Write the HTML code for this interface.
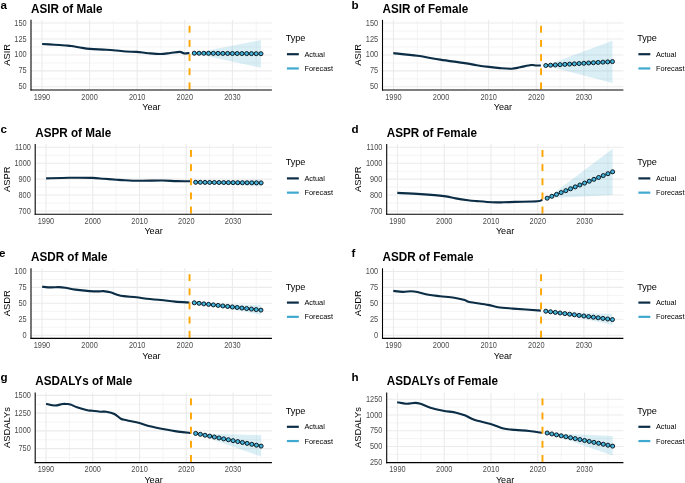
<!DOCTYPE html>
<html><head><meta charset="utf-8"><style>
html,body{margin:0;padding:0;background:#fff;}
body{width:685px;height:483px;overflow:hidden;}
svg{display:block;will-change:transform;}
text{font-family:"Liberation Sans",sans-serif;}
.tk{font-size:7.4px;fill:#4d4d4d;}
.at{font-size:9.1px;fill:#000;}
.at2{font-size:9.4px;fill:#000;}
.ti{font-size:11.7px;font-weight:bold;fill:#000;}
.tg{font-size:11.6px;font-weight:bold;fill:#000;}
.lt{font-size:9.1px;fill:#000;}
.ll{font-size:7.35px;fill:#000;}
</style></head><body>
<svg width="685" height="483" viewBox="0 0 685 483">
<rect width="685" height="483" fill="#fff"/>
<g><line x1="65.75" y1="19.85" x2="65.75" y2="90" stroke="#f1f1f1" stroke-width="0.8"/>
<line x1="113.36" y1="19.85" x2="113.36" y2="90" stroke="#f1f1f1" stroke-width="0.8"/>
<line x1="160.97" y1="19.85" x2="160.97" y2="90" stroke="#f1f1f1" stroke-width="0.8"/>
<line x1="208.58" y1="19.85" x2="208.58" y2="90" stroke="#f1f1f1" stroke-width="0.8"/>
<line x1="256.19" y1="19.85" x2="256.19" y2="90" stroke="#f1f1f1" stroke-width="0.8"/>
<line x1="31" y1="78.84" x2="271.9" y2="78.84" stroke="#f1f1f1" stroke-width="0.8"/>
<line x1="31" y1="62.9" x2="271.9" y2="62.9" stroke="#f1f1f1" stroke-width="0.8"/>
<line x1="31" y1="46.95" x2="271.9" y2="46.95" stroke="#f1f1f1" stroke-width="0.8"/>
<line x1="31" y1="31.01" x2="271.9" y2="31.01" stroke="#f1f1f1" stroke-width="0.8"/>
<line x1="41.95" y1="19.85" x2="41.95" y2="90" stroke="#ebebeb" stroke-width="1.1"/>
<line x1="89.56" y1="19.85" x2="89.56" y2="90" stroke="#ebebeb" stroke-width="1.1"/>
<line x1="137.17" y1="19.85" x2="137.17" y2="90" stroke="#ebebeb" stroke-width="1.1"/>
<line x1="184.78" y1="19.85" x2="184.78" y2="90" stroke="#ebebeb" stroke-width="1.1"/>
<line x1="232.38" y1="19.85" x2="232.38" y2="90" stroke="#ebebeb" stroke-width="1.1"/>
<line x1="31" y1="86.81" x2="271.9" y2="86.81" stroke="#ebebeb" stroke-width="1.1"/>
<line x1="31" y1="70.87" x2="271.9" y2="70.87" stroke="#ebebeb" stroke-width="1.1"/>
<line x1="31" y1="54.93" x2="271.9" y2="54.93" stroke="#ebebeb" stroke-width="1.1"/>
<line x1="31" y1="38.98" x2="271.9" y2="38.98" stroke="#ebebeb" stroke-width="1.1"/>
<line x1="31" y1="23.04" x2="271.9" y2="23.04" stroke="#ebebeb" stroke-width="1.1"/>
<polygon points="194.3,53.2 260.95,40.1 260.95,67.8" fill="#3fa9cf" fill-opacity="0.2"/>
<path d="M42.1 44C44.18 44.12 50.7 44.45 54.6 44.7C58.5 44.95 62.7 45.28 65.5 45.5C68.3 45.72 68.97 45.67 71.4 46C73.83 46.33 77.02 47.02 80.1 47.5C83.18 47.98 86.05 48.55 89.9 48.9C93.75 49.25 99.28 49.38 103.2 49.6C107.12 49.82 109.6 49.88 113.4 50.2C117.2 50.52 122.13 51.22 126 51.5C129.87 51.78 132.88 51.62 136.6 51.9C140.32 52.18 144.32 52.85 148.3 53.2C152.28 53.55 156.83 54.03 160.5 54C164.17 53.97 167.1 53.35 170.3 53C173.5 52.65 177.38 51.83 179.7 51.9C182.02 51.97 182.58 53.22 184.2 53.4C185.82 53.58 188.53 53.07 189.4 53" fill="none" stroke="#0b2d45" stroke-width="2.1" stroke-linejoin="round"/>
<rect x="188.59" y="82.4" width="1.9" height="6.9" fill="#ffa500"/>
<rect x="188.59" y="68.25" width="1.9" height="6.9" fill="#ffa500"/>
<rect x="188.59" y="54.1" width="1.9" height="6.9" fill="#ffa500"/>
<rect x="188.59" y="39.95" width="1.9" height="6.9" fill="#ffa500"/>
<rect x="188.59" y="25.8" width="1.9" height="6.9" fill="#ffa500"/>
<polyline points="194.3,53.2 199.06,53.24 203.82,53.27 208.58,53.31 213.34,53.34 218.1,53.38 222.86,53.41 227.62,53.45 232.38,53.49 237.15,53.52 241.91,53.56 246.67,53.59 251.43,53.63 256.19,53.66 260.95,53.7" fill="none" stroke="#3fa9cf" stroke-width="2"/>
<circle cx="194.3" cy="53.2" r="2.02" fill="#45b5db" stroke="#0a1016" stroke-width="0.95"/>
<circle cx="199.06" cy="53.24" r="2.02" fill="#45b5db" stroke="#0a1016" stroke-width="0.95"/>
<circle cx="203.82" cy="53.27" r="2.02" fill="#45b5db" stroke="#0a1016" stroke-width="0.95"/>
<circle cx="208.58" cy="53.31" r="2.02" fill="#45b5db" stroke="#0a1016" stroke-width="0.95"/>
<circle cx="213.34" cy="53.34" r="2.02" fill="#45b5db" stroke="#0a1016" stroke-width="0.95"/>
<circle cx="218.1" cy="53.38" r="2.02" fill="#45b5db" stroke="#0a1016" stroke-width="0.95"/>
<circle cx="222.86" cy="53.41" r="2.02" fill="#45b5db" stroke="#0a1016" stroke-width="0.95"/>
<circle cx="227.62" cy="53.45" r="2.02" fill="#45b5db" stroke="#0a1016" stroke-width="0.95"/>
<circle cx="232.38" cy="53.49" r="2.02" fill="#45b5db" stroke="#0a1016" stroke-width="0.95"/>
<circle cx="237.15" cy="53.52" r="2.02" fill="#45b5db" stroke="#0a1016" stroke-width="0.95"/>
<circle cx="241.91" cy="53.56" r="2.02" fill="#45b5db" stroke="#0a1016" stroke-width="0.95"/>
<circle cx="246.67" cy="53.59" r="2.02" fill="#45b5db" stroke="#0a1016" stroke-width="0.95"/>
<circle cx="251.43" cy="53.63" r="2.02" fill="#45b5db" stroke="#0a1016" stroke-width="0.95"/>
<circle cx="256.19" cy="53.66" r="2.02" fill="#45b5db" stroke="#0a1016" stroke-width="0.95"/>
<circle cx="260.95" cy="53.7" r="2.02" fill="#45b5db" stroke="#0a1016" stroke-width="0.95"/>
<line x1="31" y1="19.85" x2="31" y2="90.54" stroke="#000000" stroke-width="1.08"/>
<line x1="30.46" y1="90" x2="271.9" y2="90" stroke="#000000" stroke-width="1.08"/>
<text class="tk" text-anchor="end" transform="translate(26.65 89.36) scale(1 1.1)">50</text>
<text class="tk" text-anchor="end" transform="translate(26.65 73.42) scale(1 1.1)">75</text>
<text class="tk" text-anchor="end" transform="translate(26.65 57.48) scale(1 1.1)">100</text>
<text class="tk" text-anchor="end" transform="translate(26.65 41.53) scale(1 1.1)">125</text>
<text class="tk" text-anchor="end" transform="translate(26.65 25.59) scale(1 1.1)">150</text>
<text class="tk" text-anchor="middle" transform="translate(41.95 99.6) scale(1 1.1)">1990</text>
<text class="tk" text-anchor="middle" transform="translate(89.56 99.6) scale(1 1.1)">2000</text>
<text class="tk" text-anchor="middle" transform="translate(137.17 99.6) scale(1 1.1)">2010</text>
<text class="tk" text-anchor="middle" transform="translate(184.78 99.6) scale(1 1.1)">2020</text>
<text class="tk" text-anchor="middle" transform="translate(232.38 99.6) scale(1 1.1)">2030</text>
<text class="at" text-anchor="middle" transform="translate(151.45 110.2) scale(1 1.03)">Year</text>
<text class="at2" text-anchor="middle" transform="translate(9.9 54.92) rotate(-90)">ASIR</text>
<text class="ti" transform="translate(31 13.05) scale(1 1.12)">ASIR of Male</text>
<text x="0.4" y="8.8" class="tg">a</text>
<text x="285.7" y="41.1" class="lt">Type</text>
<line x1="286.9" y1="54.2" x2="298.8" y2="54.2" stroke="#0b2d45" stroke-width="2.2"/>
<line x1="286.9" y1="68.45" x2="298.8" y2="68.45" stroke="#3fa9cf" stroke-width="2.2"/>
<text x="304.4" y="56.75" class="ll">Actual</text>
<text x="304.4" y="71.05" class="ll">Forecast</text></g>
<g><line x1="417.25" y1="19.85" x2="417.25" y2="90" stroke="#f1f1f1" stroke-width="0.8"/>
<line x1="464.86" y1="19.85" x2="464.86" y2="90" stroke="#f1f1f1" stroke-width="0.8"/>
<line x1="512.47" y1="19.85" x2="512.47" y2="90" stroke="#f1f1f1" stroke-width="0.8"/>
<line x1="560.08" y1="19.85" x2="560.08" y2="90" stroke="#f1f1f1" stroke-width="0.8"/>
<line x1="607.69" y1="19.85" x2="607.69" y2="90" stroke="#f1f1f1" stroke-width="0.8"/>
<line x1="382.5" y1="78.84" x2="623.4" y2="78.84" stroke="#f1f1f1" stroke-width="0.8"/>
<line x1="382.5" y1="62.9" x2="623.4" y2="62.9" stroke="#f1f1f1" stroke-width="0.8"/>
<line x1="382.5" y1="46.95" x2="623.4" y2="46.95" stroke="#f1f1f1" stroke-width="0.8"/>
<line x1="382.5" y1="31.01" x2="623.4" y2="31.01" stroke="#f1f1f1" stroke-width="0.8"/>
<line x1="393.45" y1="19.85" x2="393.45" y2="90" stroke="#ebebeb" stroke-width="1.1"/>
<line x1="441.06" y1="19.85" x2="441.06" y2="90" stroke="#ebebeb" stroke-width="1.1"/>
<line x1="488.67" y1="19.85" x2="488.67" y2="90" stroke="#ebebeb" stroke-width="1.1"/>
<line x1="536.28" y1="19.85" x2="536.28" y2="90" stroke="#ebebeb" stroke-width="1.1"/>
<line x1="583.88" y1="19.85" x2="583.88" y2="90" stroke="#ebebeb" stroke-width="1.1"/>
<line x1="382.5" y1="86.81" x2="623.4" y2="86.81" stroke="#ebebeb" stroke-width="1.1"/>
<line x1="382.5" y1="70.87" x2="623.4" y2="70.87" stroke="#ebebeb" stroke-width="1.1"/>
<line x1="382.5" y1="54.93" x2="623.4" y2="54.93" stroke="#ebebeb" stroke-width="1.1"/>
<line x1="382.5" y1="38.98" x2="623.4" y2="38.98" stroke="#ebebeb" stroke-width="1.1"/>
<line x1="382.5" y1="23.04" x2="623.4" y2="23.04" stroke="#ebebeb" stroke-width="1.1"/>
<polygon points="545.8,65.5 612.45,40.7 612.45,83.1" fill="#3fa9cf" fill-opacity="0.2"/>
<path d="M393.3 53.1C397.32 53.55 409.58 54.72 417.4 55.8C425.22 56.88 432.32 58.38 440.2 59.6C448.08 60.82 458.62 62.17 464.7 63.1C470.78 64.03 472.67 64.57 476.7 65.2C480.73 65.83 485.02 66.42 488.9 66.9C492.78 67.38 496.2 67.8 500 68.1C503.8 68.4 508.38 68.83 511.7 68.7C515.02 68.57 516.68 67.92 519.9 67.3C523.12 66.68 528.28 65.3 531 65C533.72 64.7 534.55 65.42 536.2 65.5C537.85 65.58 540.12 65.5 540.9 65.5" fill="none" stroke="#0b2d45" stroke-width="2.1" stroke-linejoin="round"/>
<rect x="540.09" y="82.4" width="1.9" height="6.9" fill="#ffa500"/>
<rect x="540.09" y="68.25" width="1.9" height="6.9" fill="#ffa500"/>
<rect x="540.09" y="54.1" width="1.9" height="6.9" fill="#ffa500"/>
<rect x="540.09" y="39.95" width="1.9" height="6.9" fill="#ffa500"/>
<rect x="540.09" y="25.8" width="1.9" height="6.9" fill="#ffa500"/>
<polyline points="545.8,65.5 550.56,65.22 555.32,64.94 560.08,64.66 564.84,64.39 569.6,64.11 574.36,63.83 579.12,63.55 583.88,63.27 588.65,62.99 593.41,62.71 598.17,62.44 602.93,62.16 607.69,61.88 612.45,61.6" fill="none" stroke="#3fa9cf" stroke-width="2"/>
<circle cx="545.8" cy="65.5" r="2.02" fill="#45b5db" stroke="#0a1016" stroke-width="0.95"/>
<circle cx="550.56" cy="65.22" r="2.02" fill="#45b5db" stroke="#0a1016" stroke-width="0.95"/>
<circle cx="555.32" cy="64.94" r="2.02" fill="#45b5db" stroke="#0a1016" stroke-width="0.95"/>
<circle cx="560.08" cy="64.66" r="2.02" fill="#45b5db" stroke="#0a1016" stroke-width="0.95"/>
<circle cx="564.84" cy="64.39" r="2.02" fill="#45b5db" stroke="#0a1016" stroke-width="0.95"/>
<circle cx="569.6" cy="64.11" r="2.02" fill="#45b5db" stroke="#0a1016" stroke-width="0.95"/>
<circle cx="574.36" cy="63.83" r="2.02" fill="#45b5db" stroke="#0a1016" stroke-width="0.95"/>
<circle cx="579.12" cy="63.55" r="2.02" fill="#45b5db" stroke="#0a1016" stroke-width="0.95"/>
<circle cx="583.88" cy="63.27" r="2.02" fill="#45b5db" stroke="#0a1016" stroke-width="0.95"/>
<circle cx="588.65" cy="62.99" r="2.02" fill="#45b5db" stroke="#0a1016" stroke-width="0.95"/>
<circle cx="593.41" cy="62.71" r="2.02" fill="#45b5db" stroke="#0a1016" stroke-width="0.95"/>
<circle cx="598.17" cy="62.44" r="2.02" fill="#45b5db" stroke="#0a1016" stroke-width="0.95"/>
<circle cx="602.93" cy="62.16" r="2.02" fill="#45b5db" stroke="#0a1016" stroke-width="0.95"/>
<circle cx="607.69" cy="61.88" r="2.02" fill="#45b5db" stroke="#0a1016" stroke-width="0.95"/>
<circle cx="612.45" cy="61.6" r="2.02" fill="#45b5db" stroke="#0a1016" stroke-width="0.95"/>
<line x1="382.5" y1="19.85" x2="382.5" y2="90.54" stroke="#000000" stroke-width="1.08"/>
<line x1="381.96" y1="90" x2="623.4" y2="90" stroke="#000000" stroke-width="1.08"/>
<text class="tk" text-anchor="end" transform="translate(378.15 89.36) scale(1 1.1)">50</text>
<text class="tk" text-anchor="end" transform="translate(378.15 73.42) scale(1 1.1)">75</text>
<text class="tk" text-anchor="end" transform="translate(378.15 57.48) scale(1 1.1)">100</text>
<text class="tk" text-anchor="end" transform="translate(378.15 41.53) scale(1 1.1)">125</text>
<text class="tk" text-anchor="end" transform="translate(378.15 25.59) scale(1 1.1)">150</text>
<text class="tk" text-anchor="middle" transform="translate(393.45 99.6) scale(1 1.1)">1990</text>
<text class="tk" text-anchor="middle" transform="translate(441.06 99.6) scale(1 1.1)">2000</text>
<text class="tk" text-anchor="middle" transform="translate(488.67 99.6) scale(1 1.1)">2010</text>
<text class="tk" text-anchor="middle" transform="translate(536.28 99.6) scale(1 1.1)">2020</text>
<text class="tk" text-anchor="middle" transform="translate(583.88 99.6) scale(1 1.1)">2030</text>
<text class="at" text-anchor="middle" transform="translate(502.95 110.2) scale(1 1.03)">Year</text>
<text class="at2" text-anchor="middle" transform="translate(361.4 54.92) rotate(-90)">ASIR</text>
<text class="ti" transform="translate(382.5 13.05) scale(1 1.12)">ASIR of Female</text>
<text x="351.5" y="8.8" class="tg">b</text>
<text x="637.2" y="41.1" class="lt">Type</text>
<line x1="638.4" y1="54.2" x2="650.3" y2="54.2" stroke="#0b2d45" stroke-width="2.2"/>
<line x1="638.4" y1="68.45" x2="650.3" y2="68.45" stroke="#3fa9cf" stroke-width="2.2"/>
<text x="655.9" y="56.75" class="ll">Actual</text>
<text x="655.9" y="71.05" class="ll">Forecast</text></g>
<g><line x1="69.35" y1="144.05" x2="69.35" y2="214.2" stroke="#f1f1f1" stroke-width="0.8"/>
<line x1="116.13" y1="144.05" x2="116.13" y2="214.2" stroke="#f1f1f1" stroke-width="0.8"/>
<line x1="162.91" y1="144.05" x2="162.91" y2="214.2" stroke="#f1f1f1" stroke-width="0.8"/>
<line x1="209.68" y1="144.05" x2="209.68" y2="214.2" stroke="#f1f1f1" stroke-width="0.8"/>
<line x1="256.46" y1="144.05" x2="256.46" y2="214.2" stroke="#f1f1f1" stroke-width="0.8"/>
<line x1="35.2" y1="203.04" x2="271.9" y2="203.04" stroke="#f1f1f1" stroke-width="0.8"/>
<line x1="35.2" y1="187.1" x2="271.9" y2="187.1" stroke="#f1f1f1" stroke-width="0.8"/>
<line x1="35.2" y1="171.15" x2="271.9" y2="171.15" stroke="#f1f1f1" stroke-width="0.8"/>
<line x1="35.2" y1="155.21" x2="271.9" y2="155.21" stroke="#f1f1f1" stroke-width="0.8"/>
<line x1="45.96" y1="144.05" x2="45.96" y2="214.2" stroke="#ebebeb" stroke-width="1.1"/>
<line x1="92.74" y1="144.05" x2="92.74" y2="214.2" stroke="#ebebeb" stroke-width="1.1"/>
<line x1="139.52" y1="144.05" x2="139.52" y2="214.2" stroke="#ebebeb" stroke-width="1.1"/>
<line x1="186.3" y1="144.05" x2="186.3" y2="214.2" stroke="#ebebeb" stroke-width="1.1"/>
<line x1="233.07" y1="144.05" x2="233.07" y2="214.2" stroke="#ebebeb" stroke-width="1.1"/>
<line x1="35.2" y1="211.01" x2="271.9" y2="211.01" stroke="#ebebeb" stroke-width="1.1"/>
<line x1="35.2" y1="195.07" x2="271.9" y2="195.07" stroke="#ebebeb" stroke-width="1.1"/>
<line x1="35.2" y1="179.12" x2="271.9" y2="179.12" stroke="#ebebeb" stroke-width="1.1"/>
<line x1="35.2" y1="163.18" x2="271.9" y2="163.18" stroke="#ebebeb" stroke-width="1.1"/>
<line x1="35.2" y1="147.24" x2="271.9" y2="147.24" stroke="#ebebeb" stroke-width="1.1"/>
<polygon points="195.65,182.3 261.14,179.5 261.14,186.5" fill="#3fa9cf" fill-opacity="0.2"/>
<path d="M46.1 178.4C49.98 178.3 61.72 177.88 69.4 177.8C77.08 177.72 86.45 177.73 92.2 177.9C97.95 178.07 99.82 178.5 103.9 178.8C107.98 179.1 113.68 179.48 116.7 179.7C119.72 179.92 118.28 179.92 122 180.1C125.72 180.28 132.27 180.73 139 180.8C145.73 180.87 156.17 180.45 162.4 180.5C168.63 180.55 171.63 180.97 176.4 181.1C181.17 181.23 188.57 181.27 191 181.3" fill="none" stroke="#0b2d45" stroke-width="2.1" stroke-linejoin="round"/>
<rect x="190.02" y="206.6" width="1.9" height="6.9" fill="#ffa500"/>
<rect x="190.02" y="192.45" width="1.9" height="6.9" fill="#ffa500"/>
<rect x="190.02" y="178.3" width="1.9" height="6.9" fill="#ffa500"/>
<rect x="190.02" y="164.15" width="1.9" height="6.9" fill="#ffa500"/>
<rect x="190.02" y="150" width="1.9" height="6.9" fill="#ffa500"/>
<polyline points="195.65,182.3 200.33,182.34 205.01,182.39 209.68,182.43 214.36,182.47 219.04,182.51 223.72,182.56 228.4,182.6 233.07,182.64 237.75,182.69 242.43,182.73 247.11,182.77 251.79,182.81 256.46,182.86 261.14,182.9" fill="none" stroke="#3fa9cf" stroke-width="2"/>
<circle cx="195.65" cy="182.3" r="2.02" fill="#45b5db" stroke="#0a1016" stroke-width="0.95"/>
<circle cx="200.33" cy="182.34" r="2.02" fill="#45b5db" stroke="#0a1016" stroke-width="0.95"/>
<circle cx="205.01" cy="182.39" r="2.02" fill="#45b5db" stroke="#0a1016" stroke-width="0.95"/>
<circle cx="209.68" cy="182.43" r="2.02" fill="#45b5db" stroke="#0a1016" stroke-width="0.95"/>
<circle cx="214.36" cy="182.47" r="2.02" fill="#45b5db" stroke="#0a1016" stroke-width="0.95"/>
<circle cx="219.04" cy="182.51" r="2.02" fill="#45b5db" stroke="#0a1016" stroke-width="0.95"/>
<circle cx="223.72" cy="182.56" r="2.02" fill="#45b5db" stroke="#0a1016" stroke-width="0.95"/>
<circle cx="228.4" cy="182.6" r="2.02" fill="#45b5db" stroke="#0a1016" stroke-width="0.95"/>
<circle cx="233.07" cy="182.64" r="2.02" fill="#45b5db" stroke="#0a1016" stroke-width="0.95"/>
<circle cx="237.75" cy="182.69" r="2.02" fill="#45b5db" stroke="#0a1016" stroke-width="0.95"/>
<circle cx="242.43" cy="182.73" r="2.02" fill="#45b5db" stroke="#0a1016" stroke-width="0.95"/>
<circle cx="247.11" cy="182.77" r="2.02" fill="#45b5db" stroke="#0a1016" stroke-width="0.95"/>
<circle cx="251.79" cy="182.81" r="2.02" fill="#45b5db" stroke="#0a1016" stroke-width="0.95"/>
<circle cx="256.46" cy="182.86" r="2.02" fill="#45b5db" stroke="#0a1016" stroke-width="0.95"/>
<circle cx="261.14" cy="182.9" r="2.02" fill="#45b5db" stroke="#0a1016" stroke-width="0.95"/>
<line x1="35.2" y1="144.05" x2="35.2" y2="214.74" stroke="#000000" stroke-width="1.08"/>
<line x1="34.66" y1="214.2" x2="271.9" y2="214.2" stroke="#000000" stroke-width="1.08"/>
<text class="tk" text-anchor="end" transform="translate(30.85 213.56) scale(1 1.1)">700</text>
<text class="tk" text-anchor="end" transform="translate(30.85 197.62) scale(1 1.1)">800</text>
<text class="tk" text-anchor="end" transform="translate(30.85 181.68) scale(1 1.1)">900</text>
<text class="tk" text-anchor="end" transform="translate(30.85 165.73) scale(1 1.1)">1000</text>
<text class="tk" text-anchor="end" transform="translate(30.85 149.79) scale(1 1.1)">1100</text>
<text class="tk" text-anchor="middle" transform="translate(45.96 223.8) scale(1 1.1)">1990</text>
<text class="tk" text-anchor="middle" transform="translate(92.74 223.8) scale(1 1.1)">2000</text>
<text class="tk" text-anchor="middle" transform="translate(139.52 223.8) scale(1 1.1)">2010</text>
<text class="tk" text-anchor="middle" transform="translate(186.3 223.8) scale(1 1.1)">2020</text>
<text class="tk" text-anchor="middle" transform="translate(233.07 223.8) scale(1 1.1)">2030</text>
<text class="at" text-anchor="middle" transform="translate(153.55 234.4) scale(1 1.03)">Year</text>
<text class="at2" text-anchor="middle" transform="translate(9.9 179.12) rotate(-90)">ASPR</text>
<text class="ti" transform="translate(35.2 137.05) scale(1 1.12)">ASPR of Male</text>
<text x="0.6" y="132.8" class="tg">c</text>
<text x="285.7" y="165.3" class="lt">Type</text>
<line x1="286.9" y1="178.4" x2="298.8" y2="178.4" stroke="#0b2d45" stroke-width="2.2"/>
<line x1="286.9" y1="192.65" x2="298.8" y2="192.65" stroke="#3fa9cf" stroke-width="2.2"/>
<text x="304.4" y="180.95" class="ll">Actual</text>
<text x="304.4" y="195.25" class="ll">Forecast</text></g>
<g><line x1="420.85" y1="144.05" x2="420.85" y2="214.2" stroke="#f1f1f1" stroke-width="0.8"/>
<line x1="467.63" y1="144.05" x2="467.63" y2="214.2" stroke="#f1f1f1" stroke-width="0.8"/>
<line x1="514.41" y1="144.05" x2="514.41" y2="214.2" stroke="#f1f1f1" stroke-width="0.8"/>
<line x1="561.18" y1="144.05" x2="561.18" y2="214.2" stroke="#f1f1f1" stroke-width="0.8"/>
<line x1="607.96" y1="144.05" x2="607.96" y2="214.2" stroke="#f1f1f1" stroke-width="0.8"/>
<line x1="386.7" y1="203.04" x2="623.4" y2="203.04" stroke="#f1f1f1" stroke-width="0.8"/>
<line x1="386.7" y1="187.1" x2="623.4" y2="187.1" stroke="#f1f1f1" stroke-width="0.8"/>
<line x1="386.7" y1="171.15" x2="623.4" y2="171.15" stroke="#f1f1f1" stroke-width="0.8"/>
<line x1="386.7" y1="155.21" x2="623.4" y2="155.21" stroke="#f1f1f1" stroke-width="0.8"/>
<line x1="397.46" y1="144.05" x2="397.46" y2="214.2" stroke="#ebebeb" stroke-width="1.1"/>
<line x1="444.24" y1="144.05" x2="444.24" y2="214.2" stroke="#ebebeb" stroke-width="1.1"/>
<line x1="491.02" y1="144.05" x2="491.02" y2="214.2" stroke="#ebebeb" stroke-width="1.1"/>
<line x1="537.8" y1="144.05" x2="537.8" y2="214.2" stroke="#ebebeb" stroke-width="1.1"/>
<line x1="584.57" y1="144.05" x2="584.57" y2="214.2" stroke="#ebebeb" stroke-width="1.1"/>
<line x1="386.7" y1="211.01" x2="623.4" y2="211.01" stroke="#ebebeb" stroke-width="1.1"/>
<line x1="386.7" y1="195.07" x2="623.4" y2="195.07" stroke="#ebebeb" stroke-width="1.1"/>
<line x1="386.7" y1="179.12" x2="623.4" y2="179.12" stroke="#ebebeb" stroke-width="1.1"/>
<line x1="386.7" y1="163.18" x2="623.4" y2="163.18" stroke="#ebebeb" stroke-width="1.1"/>
<line x1="386.7" y1="147.24" x2="623.4" y2="147.24" stroke="#ebebeb" stroke-width="1.1"/>
<polygon points="547.15,198.2 612.64,148.8 612.64,195" fill="#3fa9cf" fill-opacity="0.2"/>
<path d="M397.3 192.9C401.18 193.1 412.82 193.57 420.6 194.1C428.38 194.63 438.15 195.38 444 196.1C449.85 196.82 451.72 197.72 455.7 198.4C459.68 199.08 464.4 199.75 467.9 200.2C471.4 200.65 472.7 200.75 476.7 201.1C480.7 201.45 487.43 202.1 491.9 202.3C496.37 202.5 499.62 202.37 503.5 202.3C507.38 202.23 509.55 202.07 515.2 201.9C520.85 201.73 532.87 201.68 537.4 201.3C541.93 200.92 541.57 199.88 542.4 199.6" fill="none" stroke="#0b2d45" stroke-width="2.1" stroke-linejoin="round"/>
<rect x="541.52" y="206.6" width="1.9" height="6.9" fill="#ffa500"/>
<rect x="541.52" y="192.45" width="1.9" height="6.9" fill="#ffa500"/>
<rect x="541.52" y="178.3" width="1.9" height="6.9" fill="#ffa500"/>
<rect x="541.52" y="164.15" width="1.9" height="6.9" fill="#ffa500"/>
<rect x="541.52" y="150" width="1.9" height="6.9" fill="#ffa500"/>
<polyline points="547.15,198.2 551.83,196.31 556.51,194.43 561.18,192.54 565.86,190.66 570.54,188.77 575.22,186.89 579.9,185 584.57,183.11 589.25,181.23 593.93,179.34 598.61,177.46 603.29,175.57 607.96,173.69 612.64,171.8" fill="none" stroke="#3fa9cf" stroke-width="2"/>
<circle cx="547.15" cy="198.2" r="2.02" fill="#45b5db" stroke="#0a1016" stroke-width="0.95"/>
<circle cx="551.83" cy="196.31" r="2.02" fill="#45b5db" stroke="#0a1016" stroke-width="0.95"/>
<circle cx="556.51" cy="194.43" r="2.02" fill="#45b5db" stroke="#0a1016" stroke-width="0.95"/>
<circle cx="561.18" cy="192.54" r="2.02" fill="#45b5db" stroke="#0a1016" stroke-width="0.95"/>
<circle cx="565.86" cy="190.66" r="2.02" fill="#45b5db" stroke="#0a1016" stroke-width="0.95"/>
<circle cx="570.54" cy="188.77" r="2.02" fill="#45b5db" stroke="#0a1016" stroke-width="0.95"/>
<circle cx="575.22" cy="186.89" r="2.02" fill="#45b5db" stroke="#0a1016" stroke-width="0.95"/>
<circle cx="579.9" cy="185" r="2.02" fill="#45b5db" stroke="#0a1016" stroke-width="0.95"/>
<circle cx="584.57" cy="183.11" r="2.02" fill="#45b5db" stroke="#0a1016" stroke-width="0.95"/>
<circle cx="589.25" cy="181.23" r="2.02" fill="#45b5db" stroke="#0a1016" stroke-width="0.95"/>
<circle cx="593.93" cy="179.34" r="2.02" fill="#45b5db" stroke="#0a1016" stroke-width="0.95"/>
<circle cx="598.61" cy="177.46" r="2.02" fill="#45b5db" stroke="#0a1016" stroke-width="0.95"/>
<circle cx="603.29" cy="175.57" r="2.02" fill="#45b5db" stroke="#0a1016" stroke-width="0.95"/>
<circle cx="607.96" cy="173.69" r="2.02" fill="#45b5db" stroke="#0a1016" stroke-width="0.95"/>
<circle cx="612.64" cy="171.8" r="2.02" fill="#45b5db" stroke="#0a1016" stroke-width="0.95"/>
<line x1="386.7" y1="144.05" x2="386.7" y2="214.74" stroke="#000000" stroke-width="1.08"/>
<line x1="386.16" y1="214.2" x2="623.4" y2="214.2" stroke="#000000" stroke-width="1.08"/>
<text class="tk" text-anchor="end" transform="translate(382.35 213.56) scale(1 1.1)">700</text>
<text class="tk" text-anchor="end" transform="translate(382.35 197.62) scale(1 1.1)">800</text>
<text class="tk" text-anchor="end" transform="translate(382.35 181.68) scale(1 1.1)">900</text>
<text class="tk" text-anchor="end" transform="translate(382.35 165.73) scale(1 1.1)">1000</text>
<text class="tk" text-anchor="end" transform="translate(382.35 149.79) scale(1 1.1)">1100</text>
<text class="tk" text-anchor="middle" transform="translate(397.46 223.8) scale(1 1.1)">1990</text>
<text class="tk" text-anchor="middle" transform="translate(444.24 223.8) scale(1 1.1)">2000</text>
<text class="tk" text-anchor="middle" transform="translate(491.02 223.8) scale(1 1.1)">2010</text>
<text class="tk" text-anchor="middle" transform="translate(537.8 223.8) scale(1 1.1)">2020</text>
<text class="tk" text-anchor="middle" transform="translate(584.57 223.8) scale(1 1.1)">2030</text>
<text class="at" text-anchor="middle" transform="translate(505.05 234.4) scale(1 1.03)">Year</text>
<text class="at2" text-anchor="middle" transform="translate(361.4 179.12) rotate(-90)">ASPR</text>
<text class="ti" transform="translate(386.7 137.05) scale(1 1.12)">ASPR of Female</text>
<text x="351.5" y="132.8" class="tg">d</text>
<text x="637.2" y="165.3" class="lt">Type</text>
<line x1="638.4" y1="178.4" x2="650.3" y2="178.4" stroke="#0b2d45" stroke-width="2.2"/>
<line x1="638.4" y1="192.65" x2="650.3" y2="192.65" stroke="#3fa9cf" stroke-width="2.2"/>
<text x="655.9" y="180.95" class="ll">Actual</text>
<text x="655.9" y="195.25" class="ll">Forecast</text></g>
<g><line x1="65.75" y1="268.25" x2="65.75" y2="338.4" stroke="#f1f1f1" stroke-width="0.8"/>
<line x1="113.36" y1="268.25" x2="113.36" y2="338.4" stroke="#f1f1f1" stroke-width="0.8"/>
<line x1="160.97" y1="268.25" x2="160.97" y2="338.4" stroke="#f1f1f1" stroke-width="0.8"/>
<line x1="208.58" y1="268.25" x2="208.58" y2="338.4" stroke="#f1f1f1" stroke-width="0.8"/>
<line x1="256.19" y1="268.25" x2="256.19" y2="338.4" stroke="#f1f1f1" stroke-width="0.8"/>
<line x1="31" y1="327.24" x2="271.9" y2="327.24" stroke="#f1f1f1" stroke-width="0.8"/>
<line x1="31" y1="311.3" x2="271.9" y2="311.3" stroke="#f1f1f1" stroke-width="0.8"/>
<line x1="31" y1="295.35" x2="271.9" y2="295.35" stroke="#f1f1f1" stroke-width="0.8"/>
<line x1="31" y1="279.41" x2="271.9" y2="279.41" stroke="#f1f1f1" stroke-width="0.8"/>
<line x1="41.95" y1="268.25" x2="41.95" y2="338.4" stroke="#ebebeb" stroke-width="1.1"/>
<line x1="89.56" y1="268.25" x2="89.56" y2="338.4" stroke="#ebebeb" stroke-width="1.1"/>
<line x1="137.17" y1="268.25" x2="137.17" y2="338.4" stroke="#ebebeb" stroke-width="1.1"/>
<line x1="184.78" y1="268.25" x2="184.78" y2="338.4" stroke="#ebebeb" stroke-width="1.1"/>
<line x1="232.38" y1="268.25" x2="232.38" y2="338.4" stroke="#ebebeb" stroke-width="1.1"/>
<line x1="31" y1="335.21" x2="271.9" y2="335.21" stroke="#ebebeb" stroke-width="1.1"/>
<line x1="31" y1="319.27" x2="271.9" y2="319.27" stroke="#ebebeb" stroke-width="1.1"/>
<line x1="31" y1="303.32" x2="271.9" y2="303.32" stroke="#ebebeb" stroke-width="1.1"/>
<line x1="31" y1="287.38" x2="271.9" y2="287.38" stroke="#ebebeb" stroke-width="1.1"/>
<line x1="31" y1="271.44" x2="271.9" y2="271.44" stroke="#ebebeb" stroke-width="1.1"/>
<polygon points="194.3,302.8 260.95,305.1 260.95,314.7" fill="#3fa9cf" fill-opacity="0.2"/>
<path d="M42.1 286.7C43.55 286.82 47.98 287.33 50.8 287.4C53.62 287.47 56.55 287.03 59 287.1C61.45 287.17 62.77 287.38 65.5 287.8C68.23 288.22 71.42 289.05 75.4 289.6C79.38 290.15 85.52 290.8 89.4 291.1C93.28 291.4 96.37 291.4 98.7 291.4C101.03 291.4 101.45 290.95 103.4 291.1C105.35 291.25 108 291.67 110.4 292.3C112.8 292.93 115.58 294.27 117.8 294.9C120.02 295.53 120.58 295.7 123.7 296.1C126.82 296.5 132.62 296.85 136.5 297.3C140.38 297.75 142.92 298.35 147 298.8C151.08 299.25 156.32 299.53 161 300C165.68 300.47 170.37 301.17 175.1 301.6C179.83 302.03 187.02 302.43 189.4 302.6" fill="none" stroke="#0b2d45" stroke-width="2.1" stroke-linejoin="round"/>
<rect x="188.59" y="330.8" width="1.9" height="6.9" fill="#ffa500"/>
<rect x="188.59" y="316.65" width="1.9" height="6.9" fill="#ffa500"/>
<rect x="188.59" y="302.5" width="1.9" height="6.9" fill="#ffa500"/>
<rect x="188.59" y="288.35" width="1.9" height="6.9" fill="#ffa500"/>
<rect x="188.59" y="274.2" width="1.9" height="6.9" fill="#ffa500"/>
<polyline points="194.3,302.8 199.06,303.32 203.82,303.84 208.58,304.36 213.34,304.89 218.1,305.41 222.86,305.93 227.62,306.45 232.38,306.97 237.15,307.49 241.91,308.01 246.67,308.54 251.43,309.06 256.19,309.58 260.95,310.1" fill="none" stroke="#3fa9cf" stroke-width="2"/>
<circle cx="194.3" cy="302.8" r="2.02" fill="#45b5db" stroke="#0a1016" stroke-width="0.95"/>
<circle cx="199.06" cy="303.32" r="2.02" fill="#45b5db" stroke="#0a1016" stroke-width="0.95"/>
<circle cx="203.82" cy="303.84" r="2.02" fill="#45b5db" stroke="#0a1016" stroke-width="0.95"/>
<circle cx="208.58" cy="304.36" r="2.02" fill="#45b5db" stroke="#0a1016" stroke-width="0.95"/>
<circle cx="213.34" cy="304.89" r="2.02" fill="#45b5db" stroke="#0a1016" stroke-width="0.95"/>
<circle cx="218.1" cy="305.41" r="2.02" fill="#45b5db" stroke="#0a1016" stroke-width="0.95"/>
<circle cx="222.86" cy="305.93" r="2.02" fill="#45b5db" stroke="#0a1016" stroke-width="0.95"/>
<circle cx="227.62" cy="306.45" r="2.02" fill="#45b5db" stroke="#0a1016" stroke-width="0.95"/>
<circle cx="232.38" cy="306.97" r="2.02" fill="#45b5db" stroke="#0a1016" stroke-width="0.95"/>
<circle cx="237.15" cy="307.49" r="2.02" fill="#45b5db" stroke="#0a1016" stroke-width="0.95"/>
<circle cx="241.91" cy="308.01" r="2.02" fill="#45b5db" stroke="#0a1016" stroke-width="0.95"/>
<circle cx="246.67" cy="308.54" r="2.02" fill="#45b5db" stroke="#0a1016" stroke-width="0.95"/>
<circle cx="251.43" cy="309.06" r="2.02" fill="#45b5db" stroke="#0a1016" stroke-width="0.95"/>
<circle cx="256.19" cy="309.58" r="2.02" fill="#45b5db" stroke="#0a1016" stroke-width="0.95"/>
<circle cx="260.95" cy="310.1" r="2.02" fill="#45b5db" stroke="#0a1016" stroke-width="0.95"/>
<line x1="31" y1="268.25" x2="31" y2="338.94" stroke="#000000" stroke-width="1.08"/>
<line x1="30.46" y1="338.4" x2="271.9" y2="338.4" stroke="#000000" stroke-width="1.08"/>
<text class="tk" text-anchor="end" transform="translate(26.65 337.76) scale(1 1.1)">0</text>
<text class="tk" text-anchor="end" transform="translate(26.65 321.82) scale(1 1.1)">25</text>
<text class="tk" text-anchor="end" transform="translate(26.65 305.88) scale(1 1.1)">50</text>
<text class="tk" text-anchor="end" transform="translate(26.65 289.93) scale(1 1.1)">75</text>
<text class="tk" text-anchor="end" transform="translate(26.65 273.99) scale(1 1.1)">100</text>
<text class="tk" text-anchor="middle" transform="translate(41.95 348) scale(1 1.1)">1990</text>
<text class="tk" text-anchor="middle" transform="translate(89.56 348) scale(1 1.1)">2000</text>
<text class="tk" text-anchor="middle" transform="translate(137.17 348) scale(1 1.1)">2010</text>
<text class="tk" text-anchor="middle" transform="translate(184.78 348) scale(1 1.1)">2020</text>
<text class="tk" text-anchor="middle" transform="translate(232.38 348) scale(1 1.1)">2030</text>
<text class="at" text-anchor="middle" transform="translate(151.45 358.6) scale(1 1.03)">Year</text>
<text class="at2" text-anchor="middle" transform="translate(9.9 303.32) rotate(-90)">ASDR</text>
<text class="ti" transform="translate(31 261.05) scale(1 1.12)">ASDR of Male</text>
<text x="-1.1" y="256.8" class="tg">e</text>
<text x="285.7" y="289.5" class="lt">Type</text>
<line x1="286.9" y1="302.6" x2="298.8" y2="302.6" stroke="#0b2d45" stroke-width="2.2"/>
<line x1="286.9" y1="316.85" x2="298.8" y2="316.85" stroke="#3fa9cf" stroke-width="2.2"/>
<text x="304.4" y="305.15" class="ll">Actual</text>
<text x="304.4" y="319.45" class="ll">Forecast</text></g>
<g><line x1="417.25" y1="268.25" x2="417.25" y2="338.4" stroke="#f1f1f1" stroke-width="0.8"/>
<line x1="464.86" y1="268.25" x2="464.86" y2="338.4" stroke="#f1f1f1" stroke-width="0.8"/>
<line x1="512.47" y1="268.25" x2="512.47" y2="338.4" stroke="#f1f1f1" stroke-width="0.8"/>
<line x1="560.08" y1="268.25" x2="560.08" y2="338.4" stroke="#f1f1f1" stroke-width="0.8"/>
<line x1="607.69" y1="268.25" x2="607.69" y2="338.4" stroke="#f1f1f1" stroke-width="0.8"/>
<line x1="382.5" y1="327.24" x2="623.4" y2="327.24" stroke="#f1f1f1" stroke-width="0.8"/>
<line x1="382.5" y1="311.3" x2="623.4" y2="311.3" stroke="#f1f1f1" stroke-width="0.8"/>
<line x1="382.5" y1="295.35" x2="623.4" y2="295.35" stroke="#f1f1f1" stroke-width="0.8"/>
<line x1="382.5" y1="279.41" x2="623.4" y2="279.41" stroke="#f1f1f1" stroke-width="0.8"/>
<line x1="393.45" y1="268.25" x2="393.45" y2="338.4" stroke="#ebebeb" stroke-width="1.1"/>
<line x1="441.06" y1="268.25" x2="441.06" y2="338.4" stroke="#ebebeb" stroke-width="1.1"/>
<line x1="488.67" y1="268.25" x2="488.67" y2="338.4" stroke="#ebebeb" stroke-width="1.1"/>
<line x1="536.28" y1="268.25" x2="536.28" y2="338.4" stroke="#ebebeb" stroke-width="1.1"/>
<line x1="583.88" y1="268.25" x2="583.88" y2="338.4" stroke="#ebebeb" stroke-width="1.1"/>
<line x1="382.5" y1="335.21" x2="623.4" y2="335.21" stroke="#ebebeb" stroke-width="1.1"/>
<line x1="382.5" y1="319.27" x2="623.4" y2="319.27" stroke="#ebebeb" stroke-width="1.1"/>
<line x1="382.5" y1="303.32" x2="623.4" y2="303.32" stroke="#ebebeb" stroke-width="1.1"/>
<line x1="382.5" y1="287.38" x2="623.4" y2="287.38" stroke="#ebebeb" stroke-width="1.1"/>
<line x1="382.5" y1="271.44" x2="623.4" y2="271.44" stroke="#ebebeb" stroke-width="1.1"/>
<polygon points="545.8,311.2 612.45,314 612.45,324.8" fill="#3fa9cf" fill-opacity="0.2"/>
<path d="M393.3 290.9C394.88 291.07 399.85 291.83 402.8 291.9C405.75 291.97 408.57 291.28 411 291.3C413.43 291.32 414.48 291.43 417.4 292C420.32 292.57 424.7 294 428.5 294.7C432.3 295.4 435.92 295.7 440.2 296.2C444.48 296.7 450.12 297.05 454.2 297.7C458.28 298.35 462.17 299.38 464.7 300.1C467.23 300.82 465.52 301.2 469.4 302C473.28 302.8 483.23 304.03 488 304.9C492.77 305.77 493.85 306.58 498 307.2C502.15 307.82 505.75 308.03 512.9 308.6C520.05 309.17 536.23 310.27 540.9 310.6" fill="none" stroke="#0b2d45" stroke-width="2.1" stroke-linejoin="round"/>
<rect x="540.09" y="330.8" width="1.9" height="6.9" fill="#ffa500"/>
<rect x="540.09" y="316.65" width="1.9" height="6.9" fill="#ffa500"/>
<rect x="540.09" y="302.5" width="1.9" height="6.9" fill="#ffa500"/>
<rect x="540.09" y="288.35" width="1.9" height="6.9" fill="#ffa500"/>
<rect x="540.09" y="274.2" width="1.9" height="6.9" fill="#ffa500"/>
<polyline points="545.8,311.2 550.56,311.8 555.32,312.4 560.08,313 564.84,313.6 569.6,314.2 574.36,314.8 579.12,315.4 583.88,316 588.65,316.6 593.41,317.2 598.17,317.8 602.93,318.4 607.69,319 612.45,319.6" fill="none" stroke="#3fa9cf" stroke-width="2"/>
<circle cx="545.8" cy="311.2" r="2.02" fill="#45b5db" stroke="#0a1016" stroke-width="0.95"/>
<circle cx="550.56" cy="311.8" r="2.02" fill="#45b5db" stroke="#0a1016" stroke-width="0.95"/>
<circle cx="555.32" cy="312.4" r="2.02" fill="#45b5db" stroke="#0a1016" stroke-width="0.95"/>
<circle cx="560.08" cy="313" r="2.02" fill="#45b5db" stroke="#0a1016" stroke-width="0.95"/>
<circle cx="564.84" cy="313.6" r="2.02" fill="#45b5db" stroke="#0a1016" stroke-width="0.95"/>
<circle cx="569.6" cy="314.2" r="2.02" fill="#45b5db" stroke="#0a1016" stroke-width="0.95"/>
<circle cx="574.36" cy="314.8" r="2.02" fill="#45b5db" stroke="#0a1016" stroke-width="0.95"/>
<circle cx="579.12" cy="315.4" r="2.02" fill="#45b5db" stroke="#0a1016" stroke-width="0.95"/>
<circle cx="583.88" cy="316" r="2.02" fill="#45b5db" stroke="#0a1016" stroke-width="0.95"/>
<circle cx="588.65" cy="316.6" r="2.02" fill="#45b5db" stroke="#0a1016" stroke-width="0.95"/>
<circle cx="593.41" cy="317.2" r="2.02" fill="#45b5db" stroke="#0a1016" stroke-width="0.95"/>
<circle cx="598.17" cy="317.8" r="2.02" fill="#45b5db" stroke="#0a1016" stroke-width="0.95"/>
<circle cx="602.93" cy="318.4" r="2.02" fill="#45b5db" stroke="#0a1016" stroke-width="0.95"/>
<circle cx="607.69" cy="319" r="2.02" fill="#45b5db" stroke="#0a1016" stroke-width="0.95"/>
<circle cx="612.45" cy="319.6" r="2.02" fill="#45b5db" stroke="#0a1016" stroke-width="0.95"/>
<line x1="382.5" y1="268.25" x2="382.5" y2="338.94" stroke="#000000" stroke-width="1.08"/>
<line x1="381.96" y1="338.4" x2="623.4" y2="338.4" stroke="#000000" stroke-width="1.08"/>
<text class="tk" text-anchor="end" transform="translate(378.15 337.76) scale(1 1.1)">0</text>
<text class="tk" text-anchor="end" transform="translate(378.15 321.82) scale(1 1.1)">25</text>
<text class="tk" text-anchor="end" transform="translate(378.15 305.88) scale(1 1.1)">50</text>
<text class="tk" text-anchor="end" transform="translate(378.15 289.93) scale(1 1.1)">75</text>
<text class="tk" text-anchor="end" transform="translate(378.15 273.99) scale(1 1.1)">100</text>
<text class="tk" text-anchor="middle" transform="translate(393.45 348) scale(1 1.1)">1990</text>
<text class="tk" text-anchor="middle" transform="translate(441.06 348) scale(1 1.1)">2000</text>
<text class="tk" text-anchor="middle" transform="translate(488.67 348) scale(1 1.1)">2010</text>
<text class="tk" text-anchor="middle" transform="translate(536.28 348) scale(1 1.1)">2020</text>
<text class="tk" text-anchor="middle" transform="translate(583.88 348) scale(1 1.1)">2030</text>
<text class="at" text-anchor="middle" transform="translate(502.95 358.6) scale(1 1.03)">Year</text>
<text class="at2" text-anchor="middle" transform="translate(361.4 303.32) rotate(-90)">ASDR</text>
<text class="ti" transform="translate(382.5 261.05) scale(1 1.12)">ASDR of Female</text>
<text x="351.5" y="256.8" class="tg">f</text>
<text x="637.2" y="289.5" class="lt">Type</text>
<line x1="638.4" y1="302.6" x2="650.3" y2="302.6" stroke="#0b2d45" stroke-width="2.2"/>
<line x1="638.4" y1="316.85" x2="650.3" y2="316.85" stroke="#3fa9cf" stroke-width="2.2"/>
<text x="655.9" y="305.15" class="ll">Actual</text>
<text x="655.9" y="319.45" class="ll">Forecast</text></g>
<g><line x1="69.35" y1="392.45" x2="69.35" y2="462.6" stroke="#f1f1f1" stroke-width="0.8"/>
<line x1="116.13" y1="392.45" x2="116.13" y2="462.6" stroke="#f1f1f1" stroke-width="0.8"/>
<line x1="162.91" y1="392.45" x2="162.91" y2="462.6" stroke="#f1f1f1" stroke-width="0.8"/>
<line x1="209.68" y1="392.45" x2="209.68" y2="462.6" stroke="#f1f1f1" stroke-width="0.8"/>
<line x1="256.46" y1="392.45" x2="256.46" y2="462.6" stroke="#f1f1f1" stroke-width="0.8"/>
<line x1="35.2" y1="457.5" x2="271.9" y2="457.5" stroke="#f1f1f1" stroke-width="0.8"/>
<line x1="35.2" y1="439.76" x2="271.9" y2="439.76" stroke="#f1f1f1" stroke-width="0.8"/>
<line x1="35.2" y1="422.01" x2="271.9" y2="422.01" stroke="#f1f1f1" stroke-width="0.8"/>
<line x1="35.2" y1="404.27" x2="271.9" y2="404.27" stroke="#f1f1f1" stroke-width="0.8"/>
<line x1="45.96" y1="392.45" x2="45.96" y2="462.6" stroke="#ebebeb" stroke-width="1.1"/>
<line x1="92.74" y1="392.45" x2="92.74" y2="462.6" stroke="#ebebeb" stroke-width="1.1"/>
<line x1="139.52" y1="392.45" x2="139.52" y2="462.6" stroke="#ebebeb" stroke-width="1.1"/>
<line x1="186.3" y1="392.45" x2="186.3" y2="462.6" stroke="#ebebeb" stroke-width="1.1"/>
<line x1="233.07" y1="392.45" x2="233.07" y2="462.6" stroke="#ebebeb" stroke-width="1.1"/>
<line x1="35.2" y1="448.63" x2="271.9" y2="448.63" stroke="#ebebeb" stroke-width="1.1"/>
<line x1="35.2" y1="430.88" x2="271.9" y2="430.88" stroke="#ebebeb" stroke-width="1.1"/>
<line x1="35.2" y1="413.14" x2="271.9" y2="413.14" stroke="#ebebeb" stroke-width="1.1"/>
<line x1="35.2" y1="395.4" x2="271.9" y2="395.4" stroke="#ebebeb" stroke-width="1.1"/>
<polygon points="195.65,433.4 261.14,435.1 261.14,456.6" fill="#3fa9cf" fill-opacity="0.2"/>
<path d="M46.1 403.8C47.55 404.08 52.07 405.47 54.8 405.5C57.53 405.53 60.47 404.25 62.5 404C64.53 403.75 65.67 403.9 67 404C68.33 404.1 68.83 404.07 70.5 404.6C72.17 405.13 74.35 406.32 77 407.2C79.65 408.08 83.87 409.3 86.4 409.9C88.93 410.5 89.87 410.5 92.2 410.8C94.53 411.1 98.07 411.55 100.4 411.7C102.73 411.85 103.87 411.32 106.2 411.7C108.53 412.08 111.97 412.83 114.4 414C116.83 415.17 118.75 417.65 120.8 418.7C122.85 419.75 123.58 419.57 126.7 420.3C129.82 421.03 135.62 422.1 139.5 423.1C143.38 424.1 146.1 425.32 150 426.3C153.9 427.28 158.22 428.12 162.9 429C167.58 429.88 173.42 430.93 178.1 431.6C182.78 432.27 188.85 432.77 191 433" fill="none" stroke="#0b2d45" stroke-width="2.1" stroke-linejoin="round"/>
<rect x="190.02" y="455" width="1.9" height="6.9" fill="#ffa500"/>
<rect x="190.02" y="440.85" width="1.9" height="6.9" fill="#ffa500"/>
<rect x="190.02" y="426.7" width="1.9" height="6.9" fill="#ffa500"/>
<rect x="190.02" y="412.55" width="1.9" height="6.9" fill="#ffa500"/>
<rect x="190.02" y="398.4" width="1.9" height="6.9" fill="#ffa500"/>
<polyline points="195.65,433.4 200.33,434.31 205.01,435.21 209.68,436.12 214.36,437.03 219.04,437.94 223.72,438.84 228.4,439.75 233.07,440.66 237.75,441.56 242.43,442.47 247.11,443.38 251.79,444.29 256.46,445.19 261.14,446.1" fill="none" stroke="#3fa9cf" stroke-width="2"/>
<circle cx="195.65" cy="433.4" r="2.02" fill="#45b5db" stroke="#0a1016" stroke-width="0.95"/>
<circle cx="200.33" cy="434.31" r="2.02" fill="#45b5db" stroke="#0a1016" stroke-width="0.95"/>
<circle cx="205.01" cy="435.21" r="2.02" fill="#45b5db" stroke="#0a1016" stroke-width="0.95"/>
<circle cx="209.68" cy="436.12" r="2.02" fill="#45b5db" stroke="#0a1016" stroke-width="0.95"/>
<circle cx="214.36" cy="437.03" r="2.02" fill="#45b5db" stroke="#0a1016" stroke-width="0.95"/>
<circle cx="219.04" cy="437.94" r="2.02" fill="#45b5db" stroke="#0a1016" stroke-width="0.95"/>
<circle cx="223.72" cy="438.84" r="2.02" fill="#45b5db" stroke="#0a1016" stroke-width="0.95"/>
<circle cx="228.4" cy="439.75" r="2.02" fill="#45b5db" stroke="#0a1016" stroke-width="0.95"/>
<circle cx="233.07" cy="440.66" r="2.02" fill="#45b5db" stroke="#0a1016" stroke-width="0.95"/>
<circle cx="237.75" cy="441.56" r="2.02" fill="#45b5db" stroke="#0a1016" stroke-width="0.95"/>
<circle cx="242.43" cy="442.47" r="2.02" fill="#45b5db" stroke="#0a1016" stroke-width="0.95"/>
<circle cx="247.11" cy="443.38" r="2.02" fill="#45b5db" stroke="#0a1016" stroke-width="0.95"/>
<circle cx="251.79" cy="444.29" r="2.02" fill="#45b5db" stroke="#0a1016" stroke-width="0.95"/>
<circle cx="256.46" cy="445.19" r="2.02" fill="#45b5db" stroke="#0a1016" stroke-width="0.95"/>
<circle cx="261.14" cy="446.1" r="2.02" fill="#45b5db" stroke="#0a1016" stroke-width="0.95"/>
<line x1="35.2" y1="392.45" x2="35.2" y2="463.14" stroke="#000000" stroke-width="1.08"/>
<line x1="34.66" y1="462.6" x2="271.9" y2="462.6" stroke="#000000" stroke-width="1.08"/>
<text class="tk" text-anchor="end" transform="translate(30.85 451.18) scale(1 1.1)">750</text>
<text class="tk" text-anchor="end" transform="translate(30.85 433.44) scale(1 1.1)">1000</text>
<text class="tk" text-anchor="end" transform="translate(30.85 415.69) scale(1 1.1)">1250</text>
<text class="tk" text-anchor="end" transform="translate(30.85 397.95) scale(1 1.1)">1500</text>
<text class="tk" text-anchor="middle" transform="translate(45.96 472.2) scale(1 1.1)">1990</text>
<text class="tk" text-anchor="middle" transform="translate(92.74 472.2) scale(1 1.1)">2000</text>
<text class="tk" text-anchor="middle" transform="translate(139.52 472.2) scale(1 1.1)">2010</text>
<text class="tk" text-anchor="middle" transform="translate(186.3 472.2) scale(1 1.1)">2020</text>
<text class="tk" text-anchor="middle" transform="translate(233.07 472.2) scale(1 1.1)">2030</text>
<text class="at" text-anchor="middle" transform="translate(153.55 482.8) scale(1 1.03)">Year</text>
<text class="at2" text-anchor="middle" transform="translate(9.9 427.53) rotate(-90)">ASDALYs</text>
<text class="ti" transform="translate(35.2 385.05) scale(1 1.12)">ASDALYs of Male</text>
<text x="0.4" y="380.8" class="tg">g</text>
<text x="285.7" y="413.7" class="lt">Type</text>
<line x1="286.9" y1="426.8" x2="298.8" y2="426.8" stroke="#0b2d45" stroke-width="2.2"/>
<line x1="286.9" y1="441.05" x2="298.8" y2="441.05" stroke="#3fa9cf" stroke-width="2.2"/>
<text x="304.4" y="429.35" class="ll">Actual</text>
<text x="304.4" y="443.65" class="ll">Forecast</text></g>
<g><line x1="420.85" y1="392.45" x2="420.85" y2="462.6" stroke="#f1f1f1" stroke-width="0.8"/>
<line x1="467.63" y1="392.45" x2="467.63" y2="462.6" stroke="#f1f1f1" stroke-width="0.8"/>
<line x1="514.41" y1="392.45" x2="514.41" y2="462.6" stroke="#f1f1f1" stroke-width="0.8"/>
<line x1="561.18" y1="392.45" x2="561.18" y2="462.6" stroke="#f1f1f1" stroke-width="0.8"/>
<line x1="607.96" y1="392.45" x2="607.96" y2="462.6" stroke="#f1f1f1" stroke-width="0.8"/>
<line x1="386.7" y1="454.32" x2="623.4" y2="454.32" stroke="#f1f1f1" stroke-width="0.8"/>
<line x1="386.7" y1="438.57" x2="623.4" y2="438.57" stroke="#f1f1f1" stroke-width="0.8"/>
<line x1="386.7" y1="422.82" x2="623.4" y2="422.82" stroke="#f1f1f1" stroke-width="0.8"/>
<line x1="386.7" y1="407.07" x2="623.4" y2="407.07" stroke="#f1f1f1" stroke-width="0.8"/>
<line x1="397.46" y1="392.45" x2="397.46" y2="462.6" stroke="#ebebeb" stroke-width="1.1"/>
<line x1="444.24" y1="392.45" x2="444.24" y2="462.6" stroke="#ebebeb" stroke-width="1.1"/>
<line x1="491.02" y1="392.45" x2="491.02" y2="462.6" stroke="#ebebeb" stroke-width="1.1"/>
<line x1="537.8" y1="392.45" x2="537.8" y2="462.6" stroke="#ebebeb" stroke-width="1.1"/>
<line x1="584.57" y1="392.45" x2="584.57" y2="462.6" stroke="#ebebeb" stroke-width="1.1"/>
<line x1="386.7" y1="462.2" x2="623.4" y2="462.2" stroke="#ebebeb" stroke-width="1.1"/>
<line x1="386.7" y1="446.45" x2="623.4" y2="446.45" stroke="#ebebeb" stroke-width="1.1"/>
<line x1="386.7" y1="430.7" x2="623.4" y2="430.7" stroke="#ebebeb" stroke-width="1.1"/>
<line x1="386.7" y1="414.95" x2="623.4" y2="414.95" stroke="#ebebeb" stroke-width="1.1"/>
<line x1="386.7" y1="399.2" x2="623.4" y2="399.2" stroke="#ebebeb" stroke-width="1.1"/>
<polygon points="547.15,433 612.64,436.1 612.64,455.4" fill="#3fa9cf" fill-opacity="0.2"/>
<path d="M397.1 402.2C398.65 402.47 403.38 403.68 406.4 403.8C409.42 403.92 412.87 402.9 415.2 402.9C417.53 402.9 417.87 403 420.4 403.8C422.93 404.6 426.6 406.55 430.4 407.7C434.2 408.85 438.92 409.87 443.2 410.7C447.48 411.53 452.4 411.88 456.1 412.7C459.8 413.52 462.37 414.42 465.4 415.6C468.43 416.78 470.08 418.42 474.3 419.8C478.52 421.18 485.83 422.45 490.7 423.9C495.57 425.35 499.42 427.5 503.5 428.5C507.58 429.5 510.92 429.48 515.2 429.9C519.48 430.32 524.67 430.52 529.2 431C533.73 431.48 540.2 432.5 542.4 432.8" fill="none" stroke="#0b2d45" stroke-width="2.1" stroke-linejoin="round"/>
<rect x="541.52" y="455" width="1.9" height="6.9" fill="#ffa500"/>
<rect x="541.52" y="440.85" width="1.9" height="6.9" fill="#ffa500"/>
<rect x="541.52" y="426.7" width="1.9" height="6.9" fill="#ffa500"/>
<rect x="541.52" y="412.55" width="1.9" height="6.9" fill="#ffa500"/>
<rect x="541.52" y="398.4" width="1.9" height="6.9" fill="#ffa500"/>
<polyline points="547.15,433 551.83,433.94 556.51,434.87 561.18,435.81 565.86,436.74 570.54,437.68 575.22,438.61 579.9,439.55 584.57,440.49 589.25,441.42 593.93,442.36 598.61,443.29 603.29,444.23 607.96,445.16 612.64,446.1" fill="none" stroke="#3fa9cf" stroke-width="2"/>
<circle cx="547.15" cy="433" r="2.02" fill="#45b5db" stroke="#0a1016" stroke-width="0.95"/>
<circle cx="551.83" cy="433.94" r="2.02" fill="#45b5db" stroke="#0a1016" stroke-width="0.95"/>
<circle cx="556.51" cy="434.87" r="2.02" fill="#45b5db" stroke="#0a1016" stroke-width="0.95"/>
<circle cx="561.18" cy="435.81" r="2.02" fill="#45b5db" stroke="#0a1016" stroke-width="0.95"/>
<circle cx="565.86" cy="436.74" r="2.02" fill="#45b5db" stroke="#0a1016" stroke-width="0.95"/>
<circle cx="570.54" cy="437.68" r="2.02" fill="#45b5db" stroke="#0a1016" stroke-width="0.95"/>
<circle cx="575.22" cy="438.61" r="2.02" fill="#45b5db" stroke="#0a1016" stroke-width="0.95"/>
<circle cx="579.9" cy="439.55" r="2.02" fill="#45b5db" stroke="#0a1016" stroke-width="0.95"/>
<circle cx="584.57" cy="440.49" r="2.02" fill="#45b5db" stroke="#0a1016" stroke-width="0.95"/>
<circle cx="589.25" cy="441.42" r="2.02" fill="#45b5db" stroke="#0a1016" stroke-width="0.95"/>
<circle cx="593.93" cy="442.36" r="2.02" fill="#45b5db" stroke="#0a1016" stroke-width="0.95"/>
<circle cx="598.61" cy="443.29" r="2.02" fill="#45b5db" stroke="#0a1016" stroke-width="0.95"/>
<circle cx="603.29" cy="444.23" r="2.02" fill="#45b5db" stroke="#0a1016" stroke-width="0.95"/>
<circle cx="607.96" cy="445.16" r="2.02" fill="#45b5db" stroke="#0a1016" stroke-width="0.95"/>
<circle cx="612.64" cy="446.1" r="2.02" fill="#45b5db" stroke="#0a1016" stroke-width="0.95"/>
<line x1="386.7" y1="392.45" x2="386.7" y2="463.14" stroke="#000000" stroke-width="1.08"/>
<line x1="386.16" y1="462.6" x2="623.4" y2="462.6" stroke="#000000" stroke-width="1.08"/>
<text class="tk" text-anchor="end" transform="translate(382.35 464.75) scale(1 1.1)">250</text>
<text class="tk" text-anchor="end" transform="translate(382.35 449) scale(1 1.1)">500</text>
<text class="tk" text-anchor="end" transform="translate(382.35 433.25) scale(1 1.1)">750</text>
<text class="tk" text-anchor="end" transform="translate(382.35 417.5) scale(1 1.1)">1000</text>
<text class="tk" text-anchor="end" transform="translate(382.35 401.75) scale(1 1.1)">1250</text>
<text class="tk" text-anchor="middle" transform="translate(397.46 472.2) scale(1 1.1)">1990</text>
<text class="tk" text-anchor="middle" transform="translate(444.24 472.2) scale(1 1.1)">2000</text>
<text class="tk" text-anchor="middle" transform="translate(491.02 472.2) scale(1 1.1)">2010</text>
<text class="tk" text-anchor="middle" transform="translate(537.8 472.2) scale(1 1.1)">2020</text>
<text class="tk" text-anchor="middle" transform="translate(584.57 472.2) scale(1 1.1)">2030</text>
<text class="at" text-anchor="middle" transform="translate(505.05 482.8) scale(1 1.03)">Year</text>
<text class="at2" text-anchor="middle" transform="translate(361.4 427.53) rotate(-90)">ASDALYs</text>
<text class="ti" transform="translate(386.7 385.05) scale(1 1.12)">ASDALYs of Female</text>
<text x="351.5" y="380.8" class="tg">h</text>
<text x="637.2" y="413.7" class="lt">Type</text>
<line x1="638.4" y1="426.8" x2="650.3" y2="426.8" stroke="#0b2d45" stroke-width="2.2"/>
<line x1="638.4" y1="441.05" x2="650.3" y2="441.05" stroke="#3fa9cf" stroke-width="2.2"/>
<text x="655.9" y="429.35" class="ll">Actual</text>
<text x="655.9" y="443.65" class="ll">Forecast</text></g>
</svg>
</body></html>
